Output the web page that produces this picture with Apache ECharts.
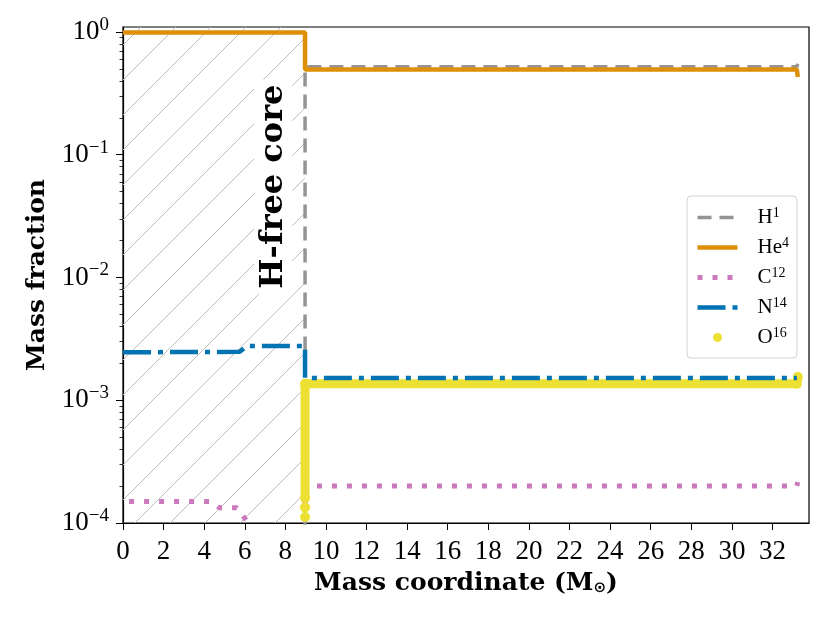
<!DOCTYPE html>
<html>
<head>
<meta charset="utf-8">
<script src="https://cdn.jsdelivr.net/npm/echarts@6.0.0/dist/echarts.min.js"></script>
<style>
  html, body { margin: 0; padding: 0; background: #fff; }
  #main { width: 830px; height: 623px; }
</style>
</head>
<body>
<div id="main"></div>
<script type="text/javascript">
    // tick positions
    var xTicks = [0, 2, 4, 6, 8, 10, 12, 14, 16, 18, 20, 22, 24, 26, 28, 30, 32];
    var yTicks = [1e-4, 1e-3, 1e-2, 1e-1, 1];
    var yMinorTicks = [
        2e-4, 3e-4, 4e-4, 5e-4, 6e-4, 7e-4, 8e-4, 9e-4,
        2e-3, 3e-3, 4e-3, 5e-3, 6e-3, 7e-3, 8e-3, 9e-3,
        2e-2, 3e-2, 4e-2, 5e-2, 6e-2, 7e-2, 8e-2, 9e-2,
        2e-1, 3e-1, 4e-1, 5e-1, 6e-1, 7e-1, 8e-1, 9e-1
    ];

    // abundance profiles [mass coordinate, mass fraction]
    var h1 = [[8.97, 1e-6], [8.97, 0.52], [33.2, 0.52], [33.25, 0.55]];
    var he4 = [[0, 0.99], [8.97, 0.99], [8.97, 0.495], [33.2, 0.495], [33.25, 0.43]];
    var c12 = [[0.3, 1.5e-4], [4.3, 1.5e-4], [4.75, 1.33e-4], [5.6, 1.33e-4], [5.95, 1.12e-4],
               [6.6, 8e-5], [8.97, 6e-5], [8.97, 2.0e-4], [33.2, 2.0e-4], [33.25, 2.15e-4]];
    var n14 = [[0, 2.46e-3], [5.75, 2.48e-3], [6.1, 2.77e-3], [8.97, 2.77e-3],
               [8.97, 1.52e-3], [33.2, 1.52e-3]];
    var o16 = [[8.97, 1.12e-4], [8.97, '-'], [8.97, 1.34e-4], [8.97, '-'], [8.97, 1.6e-4],
               [8.97, 1.36e-3], [33.2, 1.36e-3], [33.25, 1.55e-3]];

    var coreEdge = 8.97;
    var coreLabel = [7.4, 0.055];

    var serif = 'Liberation Serif';
    var serifBold = 'DejaVu Serif';

    function hatch() {
        var c = document.createElement('canvas');
        c.width = 35; c.height = 35;
        var g = c.getContext('2d');
        g.strokeStyle = '#bdbdbd';
        g.lineWidth = 1;
        g.beginPath();
        g.moveTo(-1, 29); g.lineTo(29, -1);
        g.moveTo(27, 36); g.lineTo(36, 27);
        g.stroke();
        return c;
    }

    function sup(v) {
        var e = Math.round(Math.log10(v));
        return '{b|10}{s|' + (e < 0 ? '\u2212' + (-e) : e) + '}';
    }

    var legendNames = {H1: 'H{s|1}', He4: 'He{s|4}', C12: 'C{s|12}', N14: 'N{s|14}', O16: 'O{s|16}'};

    var myChart = echarts.init(document.getElementById('main'));

    var option = {
        animation: false,
        backgroundColor: '#fff',
        grid: {
            left: 123, right: 21, top: 27, bottom: 100,
            show: true, borderColor: '#000', borderWidth: 1.2, backgroundColor: 'transparent'
        },
        legend: {
            orient: 'vertical',
            left: 687, top: 196,
            padding: [10, 8, 10, 8],
            borderColor: '#d3d3d3', borderWidth: 1, borderRadius: 4,
            backgroundColor: 'rgba(255,255,255,0.8)',
            itemWidth: 40, itemHeight: 9, itemGap: 8,
            itemStyle: {opacity: 0},
            lineStyle: {width: 'inherit'},
            data: [{name: 'H1'}, {name: 'He4'}, {name: 'C12'}, {name: 'N14'},
                   {name: 'O16', icon: 'circle', itemStyle: {opacity: 1}}],
            formatter: function (n) { return legendNames[n]; },
            textStyle: {
                fontFamily: serif, fontSize: 21, color: '#000', padding: [0, 0, 0, 15],
                rich: {
                    s: {fontFamily: serif, fontSize: 14, color: '#000', padding: [0, 0, 9, 0]}
                }
            }
        },
        xAxis: {
            type: 'value',
            min: 0, max: 33.8,
            name: '{b|Mass coordinate (M}{u|\u2299}{b|)}',
            nameLocation: 'middle', nameGap: 48,
            nameTextStyle: {
                rich: {
                    b: {fontFamily: serifBold, fontWeight: 'bold', fontSize: 25, color: '#000'},
                    u: {fontFamily: 'DejaVu Sans', fontWeight: 'bold', fontSize: 15, color: '#000', padding: [10, 0, 0, 0]}
                }
            },
            splitLine: {show: false},
            axisLine: {show: true, lineStyle: {color: '#000', width: 1.2}},
            axisTick: {show: true, length: 7, customValues: xTicks, lineStyle: {color: '#000', width: 1}},
            axisLabel: {customValues: xTicks, margin: 15, fontFamily: serif, fontSize: 27, color: '#000'}
        },
        yAxis: [{
            type: 'log',
            min: 1e-4, max: 1.098,
            name: 'Mass fraction',
            nameLocation: 'middle', nameGap: 73,
            nameTextStyle: {fontFamily: serifBold, fontWeight: 'bold', fontSize: 25, color: '#000'},
            splitLine: {show: false},
            axisLine: {show: true, lineStyle: {color: '#000', width: 1.2}},
            axisTick: {show: true, length: 7, customValues: yTicks, lineStyle: {color: '#000', width: 1}},
            axisLabel: {
                customValues: yTicks, margin: 14,
                formatter: sup,
                rich: {
                    b: {fontFamily: serif, fontSize: 27, color: '#000'},
                    s: {fontFamily: serif, fontSize: 19, color: '#000', padding: [0, 0, 14, 0]}
                }
            }
        }, {
            // minor ticks
            type: 'log', position: 'left',
            min: 1e-4, max: 1.098,
            splitLine: {show: false},
            axisLine: {show: false},
            axisLabel: {show: false},
            axisTick: {show: true, length: 3.5, customValues: yMinorTicks, lineStyle: {color: '#000', width: 0.8}}
        }],
        series: [{
            name: 'core',
            type: 'line',
            data: [],
            z: 1,
            markArea: {
                silent: true,
                itemStyle: {color: {image: hatch(), repeat: 'repeat'}},
                data: [[{xAxis: 0}, {xAxis: coreEdge}]]
            },
            markPoint: {
                silent: true,
                symbol: 'rect', symbolSize: 0,
                data: [{coord: coreLabel}],
                label: {
                    show: true, position: 'inside', rotate: 90,
                    formatter: 'H-free core',
                    fontFamily: serifBold, fontWeight: 'bold', fontSize: 32, color: '#000',
                    backgroundColor: '#fff', padding: [3, 5]
                }
            }
        }, {
            name: 'H1', type: 'line', data: h1, z: 3,
            symbol: 'none', color: '#949494',
            lineStyle: {color: '#949494', width: 3.5, type: [14, 8]}
        }, {
            name: 'He4', type: 'line', data: he4, z: 4,
            symbol: 'none', color: '#de8f05',
            lineStyle: {color: '#de8f05', width: 4.5}
        }, {
            name: 'C12', type: 'line', data: c12, z: 5,
            symbol: 'none', color: '#cc78bc',
            lineStyle: {color: '#cc78bc', width: 5, type: [5, 10]}
        }, {
            name: 'O16', type: 'line', data: o16, z: 6,
            symbol: 'circle', symbolSize: 10, showSymbol: true, showAllSymbol: true,
            connectNulls: false, color: '#ece133',
            itemStyle: {color: '#ece133'},
            lineStyle: {color: '#ece133', width: 9, join: 'round'}
        }, {
            name: 'N14', type: 'line', data: n14, z: 7,
            symbol: 'none', color: '#0173b2',
            lineStyle: {color: '#0173b2', width: 4.5, type: [28, 7, 5, 7]}
        }]
    };

    myChart.setOption(option);
</script>
</body>
</html>
